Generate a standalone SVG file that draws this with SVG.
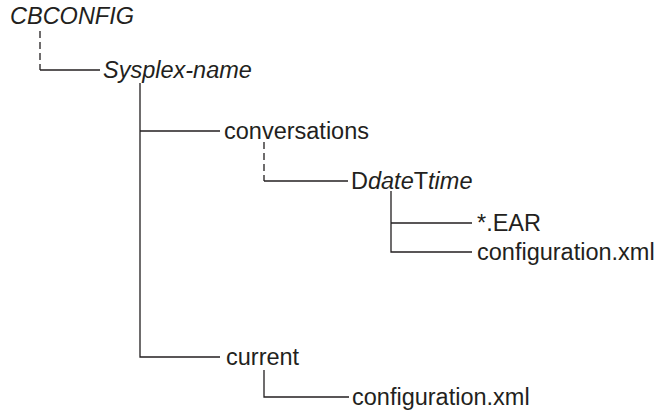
<svg xmlns="http://www.w3.org/2000/svg" width="664" height="419" viewBox="0 0 664 419">
<style>
text{font-family:"Liberation Sans",Arial,sans-serif;font-size:23.5px;fill:#231f20}
.it{font-style:italic}
.ln{stroke:#231f20;stroke-width:1.3;fill:none}
.ds{stroke-dasharray:7 4}
</style>
<rect width="664" height="419" fill="#fff"/>
<g id="connectors">
<path class="ln ds" d="M40,31V70"/>
<path class="ln" d="M40,70H100"/>
<path class="ln" d="M140,83V357H220M140,131H220"/>
<path class="ln ds" d="M264,142V181"/>
<path class="ln" d="M264,181H348"/>
<path class="ln" d="M391,191V252H472M391,223H472"/>
<path class="ln" d="M264,370V397H349"/>
</g>
<g id="cbconfig"><text class="it" x="10" y="24">CBCONFIG</text></g>
<g id="sysplex"><text class="it" x="103" y="78">Sysplex-name</text></g>
<g id="conversations"><text x="224" y="139">conversations</text></g>
<g id="datetime"><text x="351" y="189">D<tspan class="it">date</tspan>T<tspan class="it">time</tspan></text></g>
<g id="ear"><text x="477" y="231">*.EAR</text></g>
<g id="config1"><text x="477" y="260">configuration.xml</text></g>
<g id="current"><text x="226" y="365">current</text></g>
<g id="config2"><text x="352" y="405">configuration.xml</text></g>
</svg>
